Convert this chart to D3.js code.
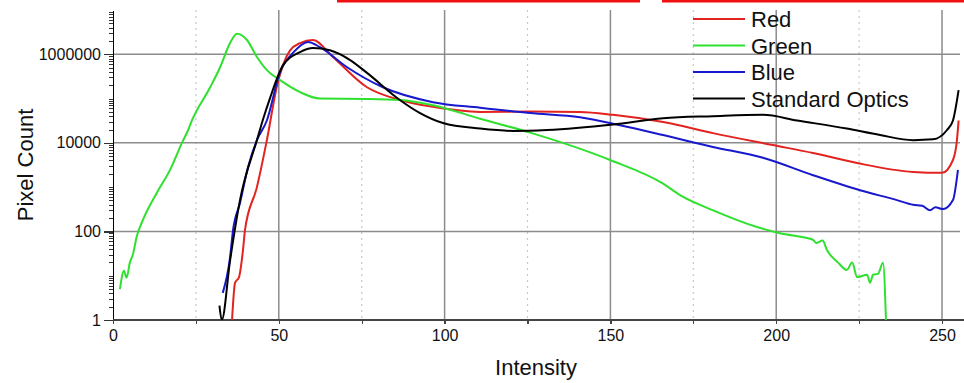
<!DOCTYPE html>
<html>
<head>
<meta charset="utf-8">
<script src="https://cdn.jsdelivr.net/npm/d3@7"></script>
<style>
    body { margin: 0; background: #fff; }
    svg { display: block; font-family: Arial, 'Liberation Sans', sans-serif; }
    .axis path, .axis line { shape-rendering: crispEdges; }
</style>
</head>
<body>
<svg class="chart" width="964" height="383"></svg>
<script>
// Values: intensity (x) and pixel count (y) per curve
var redI = [35.9, 36.8, 38, 39.2, 39.8, 43.4, 46.4, 49.5, 53.4, 56.4, 60.3, 66.3, 76.6, 86.5, 96.5, 110.7, 125.8, 140.8, 150.8, 165.9, 180.9, 199, 211.1, 224.4, 241.3, 250, 253.3, 254.5, 255];
var redN = [1, 6.9, 9.3, 38, 107, 1000, 11500, 200000, 1230000, 1780000, 2100000, 870000, 180000, 93000, 65000, 50000, 51000, 50000, 43000, 29500, 16600, 8900, 5900, 3500, 2200, 2100, 4100, 11500, 32000];

var greenI = [2.1, 3.3, 4.1, 5.1, 6, 7.1, 9, 13.2, 17.2, 20.8, 22.6, 23.8, 29.3, 32.3, 35.3, 37.4, 40.4, 43.4, 46.4, 50.4, 56.4, 62.4, 76.6, 86.5, 96.5, 110.7, 125.8, 149.9, 165.9, 171, 181, 194.2, 201.1, 211.1, 212, 214, 215.3, 218.6, 221.3, 222.9, 224.4, 227.4, 228.3, 229.2, 230.7, 232.2, 233.1];
var greenN = [5, 13, 9, 20, 30, 74, 180, 740, 2450, 10000, 19000, 32000, 180000, 510000, 1800000, 2900000, 2100000, 870000, 440000, 260000, 140000, 100000, 98000, 93000, 71000, 35000, 17000, 4100, 1200, 660, 300, 126, 91, 65, 55, 62, 38, 20, 13.5, 20, 9.3, 10.5, 6.9, 10.5, 11, 19.5, 1];

var blueI = [33.1, 35.3, 36.2, 38.3, 40.7, 43.4, 46.4, 50.4, 54.4, 58.8, 62.4, 70.6, 81.4, 96.5, 110.7, 125.8, 140.8, 152.9, 165.9, 180.9, 196, 211.1, 225.3, 236.4, 241.3, 244, 246.4, 248, 250.3, 253.3, 254.8];
var blueN = [4.1, 26, 107, 440, 2800, 11500, 32000, 400000, 1100000, 1900000, 1450000, 510000, 180000, 83000, 62000, 47000, 38000, 25000, 15000, 8100, 4600, 1860, 850, 510, 400, 380, 300, 350, 320, 510, 2450];

var stdI = [32.1, 32.8, 35.3, 38.3, 43.4, 45.3, 47.3, 51.3, 56.4, 60.3, 65.4, 71.5, 76.6, 86.5, 92.6, 99.5, 110.7, 120.6, 130.9, 150.8, 165.9, 180.9, 196, 206.3, 221.3, 231.3, 241.3, 247.3, 251.5, 253.3, 255];
var stdN = [2.1, 1, 22, 510, 11500, 35000, 100000, 570000, 1120000, 1380000, 1230000, 740000, 380000, 93000, 47000, 28000, 21000, 18600, 19500, 26000, 36000, 40000, 43000, 32000, 21000, 15000, 11500, 12000, 19500, 32000, 155000];

var seriesNames = ['Red', 'Green', 'Blue', 'Standard Optics'];
var xLabelTicks = [0, 50, 100, 150, 200, 250];
var xDottedTicks = [25, 75, 125, 175, 225];
var yLabelTicks = [1, 100, 10000, 1000000];

(function() {

    var p = {};
        p.left = 113;
        p.right = 958.6;
        p.top = 10;
        p.bottom = 320;
        p.plotRight = 960;
        p.colors = ['#e2231f', '#2fe02f', '#1818cc', '#000000'];
        p.lineWidth = 2;
        p.tickFont = 16;
        p.titleFont = 22;
        p.legend = {
            x1: 693,
            x2: 745,
            y: 19,
            dy: 26.5,
            textX: 751,
            fontSize: 22
        };

    var series = [
        { name: seriesNames[0], i: redI, n: redN },
        { name: seriesNames[1], i: greenI, n: greenN },
        { name: seriesNames[2], i: blueI, n: blueN },
        { name: seriesNames[3], i: stdI, n: stdN }
    ];

    var svg = d3.select('.chart');

    //-----  Scales  -----//
    var x = d3.scaleLinear().domain([0, 255]).range([p.left, p.right]);
    var y = d3.scaleLog().domain([1, 1e7]).range([p.bottom, p.top]);

    // torn red strip at the very top of the picture
    svg.append('rect').attr('x', 337).attr('y', 0).attr('width', 303).attr('height', 2.5).attr('fill', '#f01010');
    svg.append('rect').attr('x', 662).attr('y', 0).attr('width', 302).attr('height', 2.5).attr('fill', '#f01010');

    //-----  Grid  -----//
    var grid = svg.append('g').attr('class', 'grid');
    grid.selectAll('line.vdot')
        .data(xDottedTicks)
        .enter().append('line')
            .attr('class', 'vdot')
            .attr('x1', function(d) { return x(d); })
            .attr('x2', function(d) { return x(d); })
            .attr('y1', p.top)
            .attr('y2', p.bottom)
            .attr('stroke', '#c8c8c8')
            .attr('stroke-width', 1.2)
            .attr('stroke-dasharray', '2,4')
    ;
    grid.selectAll('line.vsolid')
        .data(xLabelTicks.filter(function(d) { return d > 0; }))
        .enter().append('line')
            .attr('class', 'vsolid')
            .attr('x1', function(d) { return x(d); })
            .attr('x2', function(d) { return x(d); })
            .attr('y1', p.top)
            .attr('y2', p.bottom)
            .attr('stroke', '#8c8c8c')
            .attr('stroke-width', 1.5)
    ;
    grid.selectAll('line.h')
        .data(yLabelTicks.filter(function(d) { return d > 1; }))
        .enter().append('line')
            .attr('class', 'h')
            .attr('x1', p.left)
            .attr('x2', p.plotRight)
            .attr('y1', function(d) { return y(d); })
            .attr('y2', function(d) { return y(d); })
            .attr('stroke', '#8c8c8c')
            .attr('stroke-width', 1.5)
    ;

    //-----  Axes  -----//
    var minor = [];
    for (var k = 0; k < 7; k++) {
        for (var m = 2; m <= 10; m++) {
            var v = m * Math.pow(10, k);
            if (yLabelTicks.indexOf(v) < 0 && v < 1e7) minor.push(v);
        }
    }
    svg.append('g')
        .attr('class', 'axis yminor')
        .attr('transform', 'translate(' + p.left + ',0)')
        .call(d3.axisLeft(y).tickValues(minor).tickSize(4).tickFormat(''))
        .call(function(g) { g.select('.domain').remove(); })
    ;
    var yAxis = svg.append('g')
        .attr('class', 'axis yaxis')
        .attr('transform', 'translate(' + p.left + ',0)')
        .call(d3.axisLeft(y)
            .tickValues(yLabelTicks)
            .tickSize(9)
            .tickSizeOuter(0)
            .tickPadding(3)
            .tickFormat(d3.format('d')))
    ;
    yAxis.select('.domain').attr('stroke', '#000').attr('stroke-width', 1.5);
    yAxis.selectAll('.tick line').attr('stroke', '#333').attr('stroke-width', 1.3);
    yAxis.selectAll('.tick text')
        .attr('font-size', p.tickFont)
        .attr('font-family', 'Arial, Liberation Sans, sans-serif')
        .attr('fill', '#111')
    ;
    svg.selectAll('.yminor .tick line').attr('stroke', '#333');

    var xAxis = svg.append('g')
        .attr('class', 'axis xaxis')
        .attr('transform', 'translate(0,' + p.bottom + ')')
        .call(d3.axisBottom(x)
            .tickValues(xLabelTicks.concat(xDottedTicks))
            .tickSize(4)
            .tickSizeOuter(0)
            .tickPadding(6)
            .tickFormat(function(d) { return xLabelTicks.indexOf(d) >= 0 ? d : ''; }))
    ;
    xAxis.select('.domain')
        .attr('d', 'M' + p.left + ',0H' + 964)
        .attr('stroke', '#444')
        .attr('stroke-width', 2)
    ;
    xAxis.selectAll('.tick line').attr('stroke', '#444').attr('stroke-width', 1.3);
    xAxis.selectAll('.tick text')
        .attr('font-size', p.tickFont)
        .attr('font-family', 'Arial, Liberation Sans, sans-serif')
        .attr('fill', '#111')
    ;

    //-----  Axis titles  -----//
    svg.append('text')
        .text('Intensity')
        .attr('x', 536)
        .attr('y', 375)
        .attr('text-anchor', 'middle')
        .attr('font-size', p.titleFont)
        .attr('fill', '#111')
    ;
    svg.append('text')
        .text('Pixel Count')
        .attr('transform', 'translate(33,165) rotate(-90)')
        .attr('text-anchor', 'middle')
        .attr('font-size', p.titleFont)
        .attr('fill', '#111')
    ;

    //-----  Curves  -----//
    svg.append('clipPath')
        .attr('id', 'plot-clip')
        .append('rect')
            .attr('x', p.left)
            .attr('y', p.top - 5)
            .attr('width', p.plotRight - p.left + 4)
            .attr('height', p.bottom - p.top + 5)
    ;
    var line = d3.line()
        .x(function(d) { return x(d[0]); })
        .y(function(d) { return y(d[1]); })
        .curve(d3.curveMonotoneX)
    ;
    var curves = svg.append('g').attr('clip-path', 'url(#plot-clip)');
    series.forEach(function(s, n) {
        curves.append('path')
            .datum(d3.zip(s.i, s.n))
            .attr('d', line)
            .attr('fill', 'none')
            .attr('stroke', p.colors[n])
            .attr('stroke-width', p.lineWidth)
            .attr('stroke-linejoin', 'round')
        ;
    });

    //-----  Legend  -----//
    var legend = svg.append('g').attr('class', 'legend');
    for (var n = 0; n < seriesNames.length; n++) {
        legend.append('line')
            .attr('x1', p.legend.x1)
            .attr('x2', p.legend.x2)
            .attr('y1', p.legend.y + n * p.legend.dy)
            .attr('y2', p.legend.y + n * p.legend.dy)
            .attr('stroke', p.colors[n])
            .attr('stroke-width', 2.2)
        ;
        legend.append('text')
            .text(seriesNames[n])
            .attr('x', p.legend.textX)
            .attr('y', p.legend.y + n * p.legend.dy + 8)
            .attr('font-size', p.legend.fontSize)
            .attr('fill', '#111')
        ;
    }
})();
</script>
</body>
</html>
